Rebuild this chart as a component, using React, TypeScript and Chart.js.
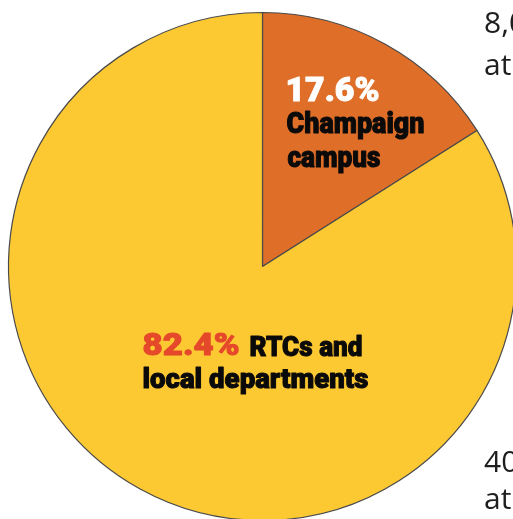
import React, { useEffect, useRef } from "react";
import { Chart, registerables } from "chart.js";

Chart.register(...registerables);

// ---- data ----
const categories: string[] = ["Champaign campus", "RTCs and local departments"];
// slice sizes as drawn in the reference graphic (measured angle of the wedge)
const sliceShares: number[] = [16.0, 84.0];
const percentLabels: string[] = ["17.6%", "82.4%"];
const sideNotesTop: string[] = ["8,0", "at"];
const sideNotesBottom: string[] = ["40", "at"];

// ---- styles ----
const sliceColors = ["#DE6E28", "#FDC932"];
const BORDER = "#4a4a4a";
const LABEL_FONT = "Roboto";

type Lbl = { text: string; dx: number; dy: number; size: number; color: string; w: number };

function buildLabels(): Lbl[] {
  return [
    { text: percentLabels[0], dx: 23, dy: -165.5, size: 34, color: "#ffffff", w: 94 },
    { text: "Champaign", dx: 24, dy: -133.5, size: 29, color: "#0a0a0a", w: 138 },
    { text: "campus", dx: 25, dy: -99.5, size: 29, color: "#0a0a0a", w: 93 },
    { text: percentLabels[1], dx: -120, dy: 88.5, size: 32, color: "#E5482A", w: 97 },
    { text: "RTCs and", dx: -13, dy: 89, size: 28, color: "#0a0a0a", w: 113 },
    { text: "local departments", dx: -120, dy: 121.5, size: 28, color: "#0a0a0a", w: 226 },
  ];
}

const labelPlugin = {
  id: "sliceLabels",
  afterDraw(chart: any) {
    const ctx: CanvasRenderingContext2D = chart.ctx;
    const arc = chart.getDatasetMeta(0).data[0];
    if (!arc) return;
    const cx = arc.x;
    const cy = arc.y;
    ctx.save();
    ctx.textBaseline = "alphabetic";
    ctx.textAlign = "left";
    for (const l of buildLabels()) {
      ctx.font = `900 ${l.size}px ${LABEL_FONT}`;
      const m = ctx.measureText(l.text).width;
      const sx = l.w / m;
      ctx.save();
      ctx.translate(cx + l.dx, cy + l.dy);
      ctx.scale(sx, 1);
      ctx.fillStyle = l.color;
      ctx.strokeStyle = l.color;
      ctx.lineWidth = 1;
      ctx.lineJoin = "round";
      ctx.fillText(l.text, 0, 0);
      ctx.strokeText(l.text, 0, 0);
      ctx.restore();
    }
    // side notes (cut off by the frame edge)
    ctx.font = `400 30px "Open Sans"`;
    ctx.fillStyle = "#1e1e1e";
    ctx.fillText(sideNotesTop[0], 484, 33);
    ctx.fillText(sideNotesTop[1], 484, 75);
    ctx.fillText(sideNotesBottom[0], 484, 472);
    ctx.fillText(sideNotesBottom[1], 484, 509);
    ctx.restore();
  },
};

export default function App() {
  const ref = useRef<HTMLCanvasElement | null>(null);
  useEffect(() => {
    if (!ref.current) return;
    const chart = new Chart(ref.current, {
      type: "pie",
      data: {
        labels: categories,
        datasets: [
          {
            data: sliceShares,
            backgroundColor: sliceColors,
            borderColor: BORDER,
            borderWidth: 1.2,
            radius: 254,
          } as any,
        ],
      },
      options: {
        responsive: false,
        animation: false,
        events: [],
        layout: { padding: 0 },
        plugins: {
          legend: { display: false },
          tooltip: { enabled: false },
        },
      },
      plugins: [labelPlugin],
    });
    return () => chart.destroy();
  }, []);

  return (
    <div
      style={{
        position: "fixed",
        left: 0,
        top: 0,
        width: 513,
        height: 519,
        overflow: "hidden",
        background: "#ffffff",
      }}
    >
      <canvas ref={ref} width={525} height={533} style={{ display: "block", width: 525, height: 533 }} />
    </div>
  );
}
